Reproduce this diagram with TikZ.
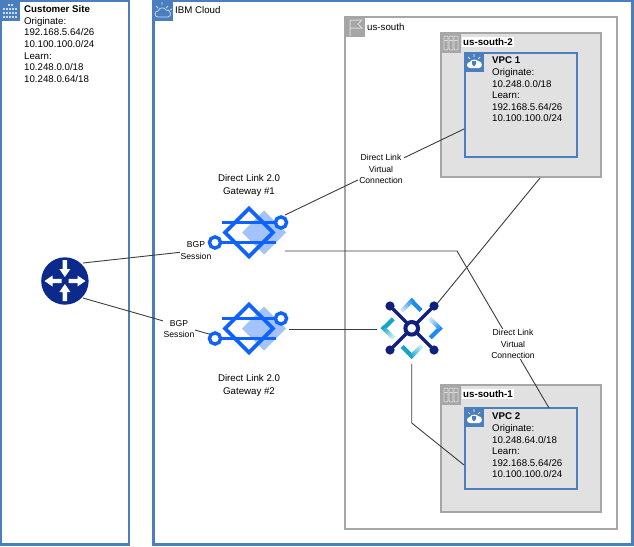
\documentclass[tikz,border=0pt]{standalone}
\usepackage{fontspec}
\setmainfont{Liberation Sans}
\usepackage{tikz}
\usetikzlibrary{positioning, backgrounds}

\definecolor{frameblue}{HTML}{4A7EBF}
\definecolor{framegray}{HTML}{A6A6A6}
\definecolor{zonefill}{HTML}{E1E1E1}
\definecolor{gwblue}{HTML}{0F62FE}
\definecolor{gwlight}{HTML}{A3C4FB}
\definecolor{navy}{HTML}{0B2A8C}
\definecolor{hubnavy}{HTML}{11207F}
\definecolor{chevblue}{HTML}{1C8CF0}
\definecolor{chevteal}{HTML}{12A5C8}
\definecolor{linegray}{HTML}{3C3C3C}
\definecolor{icongray}{HTML}{D9D9D9}
\definecolor{iconblue}{HTML}{C9DCF5}

\tikzset{
  x=1pt, y=-1pt,
  bigframe/.style={draw=frameblue, line width=2.4pt},
  regionframe/.style={draw=framegray, line width=1.6pt},
  zonebox/.style={draw=framegray, fill=zonefill, line width=1.2pt},
  vpcbox/.style={draw=frameblue, fill=zonefill, line width=1.8pt},
  infotext/.style={align=left, anchor=north west, inner sep=0pt, font=\fontsize{9.7}{11.6}\selectfont},
  titletext/.style={anchor=west, inner sep=1pt, font=\fontsize{9.7}{11.6}\selectfont},
  linktext/.style={align=center, fill=white, inner sep=1pt, font=\fontsize{8.6}{11.3}\selectfont},
  gwtext/.style={align=center, inner sep=0pt, font=\fontsize{9.7}{12.6}\selectfont},
  wire/.style={draw=linegray, line width=0.9pt},
  pics/gateway/.style={code={
    \fill[gwlight] (15,-22) -- (37,0) -- (15,22) -- (-7,0) -- cycle;
    \draw[gwblue, line width=3.8pt, line join=miter] (0,-24) -- (24,0) -- (0,24) -- (-24,0) -- cycle;
    \draw[gwblue, line width=3.8pt] (-27,-10) -- (27,-10) (-29,10) -- (27,10);
    \draw[gwblue, line width=3.4pt, fill=white] (32,-10) circle (5.6);
    \draw[gwblue, line width=3.4pt, fill=white] (-34,10) circle (5.6);
  }},
  pics/chevron/.style={code={
    \fill[#1] (0,-3) -- (11,8) -- (8,11) -- (0,3) -- cycle;
    \foreach \ct [evaluate=\ct as \pct using {100-\ct*15}] in {0,...,5}{
      \fill[#1!\pct] ({-\ct*1.9+0.1},{-3+\ct*1.9-0.1}) -- ({-(\ct+1)*1.9},{-3+(\ct+1)*1.9})
        -- ({-(\ct+1)*1.9+3},{-3+(\ct+1)*1.9+3}) -- ({-\ct*1.9+3.1},{-3+\ct*1.9+2.9}) -- cycle;
    }
  }},
  pics/routerarrow/.style={code={
    \fill[white] (-2.2,0) -- (-2.2,-9) -- (-5.5,-9) -- (0,-17) -- (5.5,-9) -- (2.2,-9) -- (2.2,0) -- cycle;
  }},
  pics/buildingicon/.style={code={
    \foreach \bx in {3,6,9,12,15}{
      \foreach \by in {8,12,16}{
        \fill[iconblue] (\bx,\by) rectangle ++(2,2.4);
      }
    }
    \foreach \bx in {8,11}{
      \fill[iconblue] (\bx,3.5) rectangle ++(2,2.4);
    }
  }},
  pics/cloudicon/.style={code={
    \draw[iconblue, line width=0.8pt] (5,17) .. controls (1,17) and (1,11) .. (5,11)
      .. controls (6,7) and (12,7) .. (13,10) .. controls (18,9) and (19,17) .. (15,17) -- cycle;
    \draw[iconblue, line width=0.8pt] (3,6) -- (5,8) (9,2) -- (9,5) (15,6) -- (13,8) (19,9) -- (17,10);
  }},
  pics/flagicon/.style={code={
    \draw[icongray, line width=1pt] (5,19) -- (5,3) -- (17,3) -- (13,7) -- (17,11) -- (5,11);
  }},
  pics/racksicon/.style={code={
    \foreach \bx in {3,8,13}{
      \draw[icongray, line width=0.8pt, rounded corners=1pt] (\bx,3) rectangle ++(4,14);
      \draw[icongray, line width=0.6pt] (\bx,7) -- ++(4,0);
    }
  }},
  pics/vpcicon/.style={code={
    \fill[white] (5,15) .. controls (1,15) and (1,9) .. (5,9)
      .. controls (6,6) and (12,6) .. (13,8) .. controls (18,8) and (18,15) .. (14,15) -- cycle;
    \fill[frameblue] (7,8) -- (11,8) -- (11,11) -- (9,13.5) -- (7,11) -- cycle;
    \draw[white, line width=0.7pt] (3,4) -- (5,6) (9,1) -- (9,4) (15,4) -- (13,6);
  }},
}

\begin{document}
\begin{tikzpicture}
  \useasboundingbox (0,0) rectangle (634,546);

  % boxes
  \draw[bigframe] (1.2,1) rectangle (129,544.5);
  \draw[bigframe] (153.5,1) rectangle (632.5,544.5);
  \draw[regionframe] (345,17) rectangle (617,529);
  \draw[zonebox] (441,33) rectangle (601,177);
  \draw[zonebox] (441,385) rectangle (601,512);
  \draw[vpcbox] (465,53) rectangle (577,157);
  \draw[vpcbox] (465,408) rectangle (577,489);

  % corner tiles
  \fill[frameblue] (0,0) rectangle (20,21);
  \fill[frameblue] (153,0) rectangle (173,21);
  \fill[framegray] (345,17) rectangle (365,37);
  \fill[framegray] (441,33) rectangle (461,53);
  \fill[framegray] (441,385) rectangle (461,405);
  \fill[frameblue] (465,53) rectangle (484,72);
  \fill[frameblue] (465,408) rectangle (484,427);
  \pic at (0,0) {buildingicon};
  \pic at (153,0) {cloudicon};
  \pic at (345,17) {flagicon};
  \pic at (441,33) {racksicon};
  \pic at (441,385) {racksicon};
  \pic at (465,53) {vpcicon};
  \pic at (465,408) {vpcicon};

  % texts
  \node[infotext] (site) at (24,5.5) {\textbf{Customer Site}\\Originate:\\192.168.5.64/26\\10.100.100.0/24\\Learn:\\10.248.0.0/18\\10.248.0.64/18};
  \node[titletext] (cloud) at (174,10) {IBM Cloud};
  \node[titletext] (region) at (366,27) {us-south};
  \node[titletext, fill=white] (zone2) at (462,42) {\textbf{us-south-2}};
  \node[titletext, fill=white] (zone1) at (462,394) {\textbf{us-south-1}};
  \node[infotext] (vpc1) at (492,57) {\textbf{VPC 1}\\Originate:\\10.248.0.0/18\\Learn:\\192.168.5.64/26\\10.100.100.0/24};
  \node[infotext] (vpc2) at (492,413) {\textbf{VPC 2}\\Originate:\\10.248.64.0/18\\Learn:\\192.168.5.64/26\\10.100.100.0/24};
  \node[gwtext] (gwname1) at (249,185.5) {Direct Link 2.0\\Gateway \#1};
  \node[gwtext] (gwname2) at (249,385.5) {Direct Link 2.0\\Gateway \#2};

  % connectors
  \coordinate (routerA) at (83,263);
  \coordinate (routerB) at (83,298);
  \coordinate (gwA) at (210,249);
  \coordinate (gwB) at (216,336);
  \coordinate (gwC) at (285,215);
  \coordinate (gwD) at (285,251);
  \coordinate (gwE) at (289,329);
  \coordinate (hubW) at (377,329);
  \coordinate (hubNE) at (436,305);
  \coordinate (hubS) at (411.7,364);
  \coordinate (zoneS) at (540,178);
  \coordinate (bend1) at (457,251);
  \coordinate (bend2) at (411.7,423);
  \coordinate (vpcA) at (464,129);
  \coordinate (vpcB) at (549,408);
  \coordinate (vpcC) at (464,465);
  \draw[wire] (routerA) -- (gwA);
  \draw[wire] (routerB) -- (gwB);
  \draw[wire] (gwC) -- (vpcA);
  \draw[wire] (gwD) -- (bend1) -- (vpcB);
  \draw[wire] (gwE) -- (hubW);
  \draw[wire] (hubNE) -- (zoneS);
  \draw[wire] (hubS) -- (bend2) -- (vpcC);

  \node[linktext] (bgp1) at (196,250.5) {BGP\\Session};
  \node[linktext] (bgp2) at (179,329) {BGP\\Session};
  \node[linktext] (link1) at (381,169) {Direct Link\\Virtual\\Connection};
  \node[linktext] (link2) at (513,344) {Direct Link\\Virtual\\Connection};

  % icons
  \pic at (249,232.5) {gateway};
  \pic at (249,328.5) {gateway};

  \fill[navy] (64.9,281) circle (23.7);
  \pic[rotate=180] at (64.9,260) {routerarrow};
  \pic at (64.9,301) {routerarrow};
  \pic[rotate=270] at (68.5,281) {routerarrow};
  \pic[rotate=90] at (61.5,281) {routerarrow};

  \draw[hubnavy, line width=3.4pt] (390,306) -- (434,350) (434,306) -- (390,350);
  \fill[hubnavy] (390,306) circle (4.6) (434,306) circle (4.6) (390,350) circle (4.6) (434,350) circle (4.6);
  \draw[hubnavy, line width=4pt, fill=white] (411.7,328.3) circle (6.3);
  \pic at (411.7,301) {chevron=chevblue};
  \pic[rotate=270] at (439.7,328.3) {chevron=chevblue};
  \pic[rotate=180] at (411.7,356) {chevron=chevteal};
  \pic[rotate=90] at (383.7,328.3) {chevron=chevteal};
\end{tikzpicture}
\end{document}
